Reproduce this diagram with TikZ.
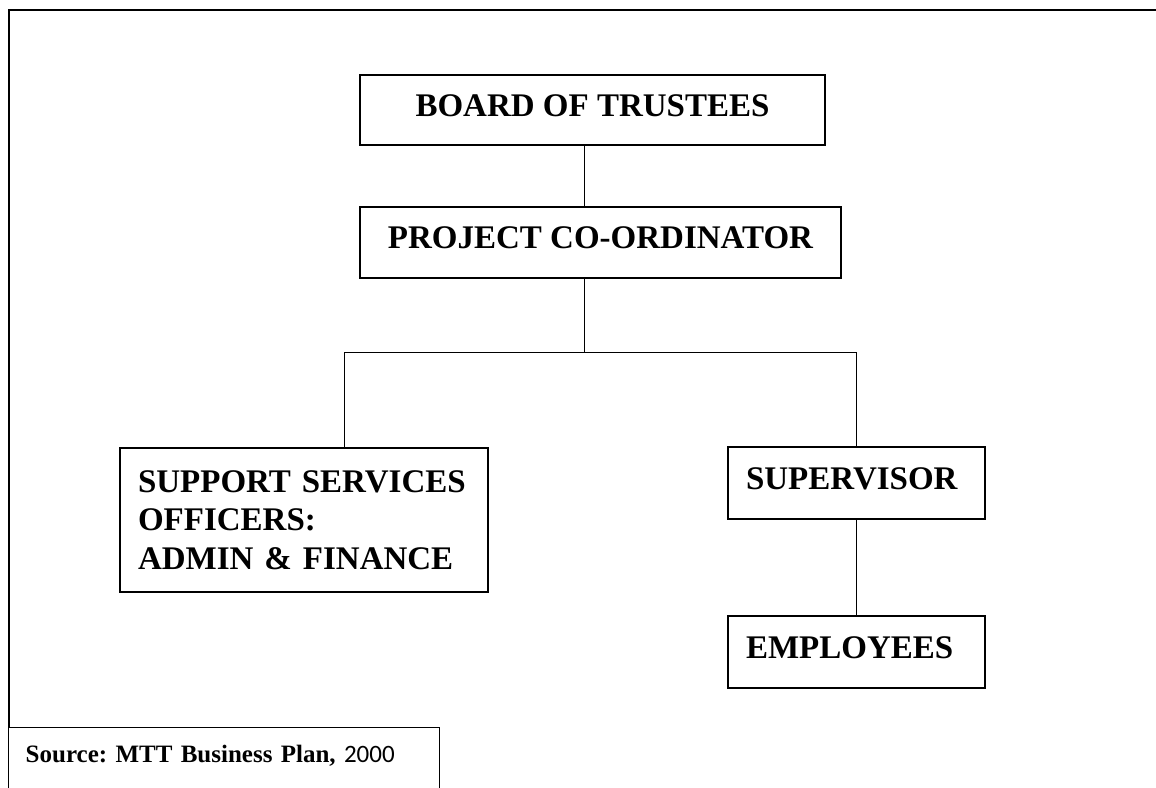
\documentclass[tikz,border=0pt]{standalone}
\usepackage{fontspec}
\setmainfont{Liberation Serif}
\newfontfamily\yearfont{Carlito}
\usepackage{tikz}

\begin{document}
\frenchspacing
\begin{tikzpicture}[x=0.5pt, y=-0.5pt,
    box/.style={draw, line width=0.7pt, inner sep=0pt, font=\bfseries\fontsize{16.5}{19.3}\selectfont},
    onebox/.style={box, text height=11pt, text depth=5pt},
    link/.style={line width=0.5pt}]
    \useasboundingbox (0,0) rectangle (1156,787);

    % Frame (top and left edge only)
    \draw[line width=1pt] (1156,10) -- (9,10) -- (9,727);

    % Board and co-ordinator
    \node[onebox, minimum width=232.5pt, minimum height=35pt] (board) at (592.5,110) {BOARD OF TRUSTEES};
    \node[onebox, minimum width=240.5pt, minimum height=35.5pt] (coord) at (600.5,242.5) {PROJECT CO-ORDINATOR};

    % Branch points
    \coordinate (hub) at (584,352);
    \coordinate (lbend) at (344,352);
    \coordinate (rbend) at (856.5,352);

    % Lower level
    \node[box, align=left, text width=166pt, inner xsep=9pt, minimum height=72pt] (support) at (304,520)
        {SUPPORT SERVICES\\OFFICERS:\\ADMIN \& FINANCE};
    \node[onebox, align=left, text width=110.5pt, inner xsep=9pt, minimum height=36pt] (super) at (856.5,483) {SUPERVISOR};
    \node[onebox, align=left, text width=110.5pt, inner xsep=9pt, minimum height=36pt] (staff) at (856.5,652) {EMPLOYEES};

    % Source note
    \node[draw, line width=0.7pt, anchor=north west, align=left, text width=198.5pt, inner xsep=8.5pt,
        minimum height=40pt, text height=8.3pt, text depth=14pt, font=\fontsize{12.5}{15}\selectfont] (source) at (8,727)
        {\mbox{\textbf{Source: MTT Business Plan,} {\yearfont 2000}}};

    % Links
    \draw[link] (board.south -| hub) -- (coord.north -| hub);
    \draw[link] (coord.south -| hub) -- (hub);
    \draw[link] (support.north -| lbend) -- (lbend) -- (rbend) -- (super.north);
    \draw[link] (super.south) -- (staff.north);
\end{tikzpicture}
\end{document}
